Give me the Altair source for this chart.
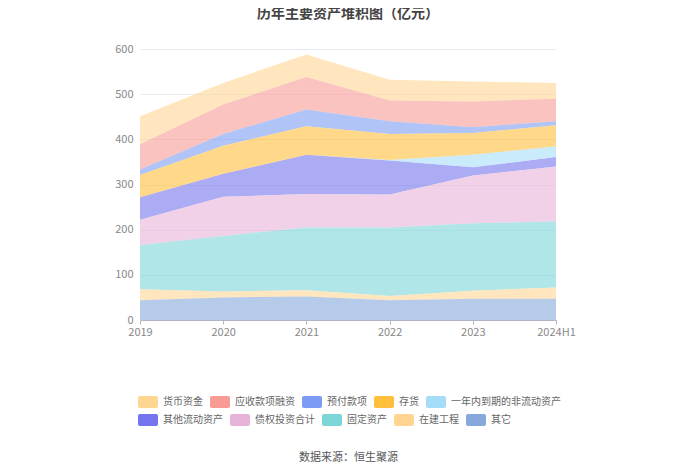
import altair as alt
import pandas as pd

years = ["2019", "2020", "2021", "2022", "2023", "2024H1"]

# legend order (top of stack first)
names = ["货币资金", "应收款项融资", "预付款项", "存货", "一年内到期的非流动资产",
         "其他流动资产", "债权投资合计", "固定资产", "在建工程", "其它"]
colors = ["#FFD592", "#F89B94", "#7C9CF4", "#FFBF3A", "#A5DDF8",
          "#7474EE", "#E8B3D9", "#7DD6D8", "#FFD592", "#86A8DC"]

v_cash      = [62, 48, 50, 46, 44, 35]
v_recv      = [56, 65, 72, 46, 57, 50]
v_prepay    = [12, 26, 37, 28, 13, 9]
v_inventory = [49, 62, 63, 58, 48, 47]
v_oneyear   = [0, 0, 0, 1, 28, 23]
v_othercur  = [50, 51, 87, 75, 18, 21]
v_debt      = [56, 87, 74, 73, 106, 122]
v_fixed     = [98, 123, 139, 152, 149, 146]
v_cip       = [24, 13, 14, 9, 18, 25]
v_other     = [44, 50, 52, 44, 47, 47]

series = [v_cash, v_recv, v_prepay, v_inventory, v_oneyear,
          v_othercur, v_debt, v_fixed, v_cip, v_other]

rows = []
for i, (n, vals) in enumerate(zip(names, series)):
    for y, v in zip(years, vals):
        rows.append({"年份": y, "类别": n, "值": v, "序号": len(names) - i})
df = pd.DataFrame(rows)

FONT = "Noto Sans CJK SC"
rrect = ("M-0.8,-0.6H0.8Q1,-0.6 1,-0.4V0.4Q1,0.6 0.8,0.6H-0.8Q-1,0.6 -1,0.4"
         "V-0.4Q-1,-0.6 -0.8,-0.6Z")

x_enc = alt.X("年份:N", sort=years,
              scale=alt.Scale(type="point", padding=0),
              axis=alt.Axis(title="数据来源：恒生聚源", titleY=137, titleBaseline="middle",
                            titleFontSize=11, titleFontWeight="normal", titleColor="#555",
                            labelAngle=0, labelFontSize=11, labelColor="#888",
                            labelPadding=2, tickSize=4, tickColor="#B0B7C3",
                            domainColor="#B0B7C3", grid=False))
y_enc = alt.Y("y1:Q",
              scale=alt.Scale(domain=[0, 600], nice=False),
              axis=alt.Axis(title=None, values=[0, 100, 200, 300, 400, 500, 600],
                            labelFontSize=11, labelColor="#888", labelPadding=7,
                            domain=False, ticks=False, gridColor="#E6EAF2"))


def legend(y):
    return alt.Legend(title=None, orient="none", legendX=-2, legendY=y,
                      direction="horizontal", symbolType=rrect, symbolSize=400,
                      symbolStrokeWidth=0, symbolOpacity=1, labelFontSize=10,
                      labelColor="#666", labelOffset=5, columnPadding=7)


base = alt.Chart(df).transform_stack(
    stack="值", groupby=["年份"], as_=["y0", "y1"],
    sort=[alt.SortField("序号", order="ascending")],
)

top = base.transform_filter("datum['序号'] > 5").mark_area(
    fillOpacity=0.6, strokeWidth=0).encode(
    x=x_enc, y=y_enc, y2="y0:Q",
    color=alt.Color("类别:N", scale=alt.Scale(domain=names[:5], range=colors[:5]),
                    legend=legend(343)),
)
bottom = base.transform_filter("datum['序号'] <= 5").mark_area(
    fillOpacity=0.6, strokeWidth=0).encode(
    x=x_enc, y=y_enc, y2="y0:Q",
    color=alt.Color("类别:N", scale=alt.Scale(domain=names[5:], range=colors[5:]),
                    legend=legend(361)),
)

chart = alt.layer(bottom, top).resolve_scale(color="independent").properties(
    width=416, height=271,
    autosize=alt.AutoSizeParams(type="none"),
    padding={"left": 132, "top": 41, "right": 136, "bottom": 146},
    title=alt.TitleParams("历年主要资产堆积图（亿元）", fontSize=14, fontWeight="bold",
                          color="#444", anchor="middle", offset=22),
).configure(font=FONT).configure_view(stroke=None)

chart.save("out.html", embed_options={"renderer": "svg", "actions": False})
